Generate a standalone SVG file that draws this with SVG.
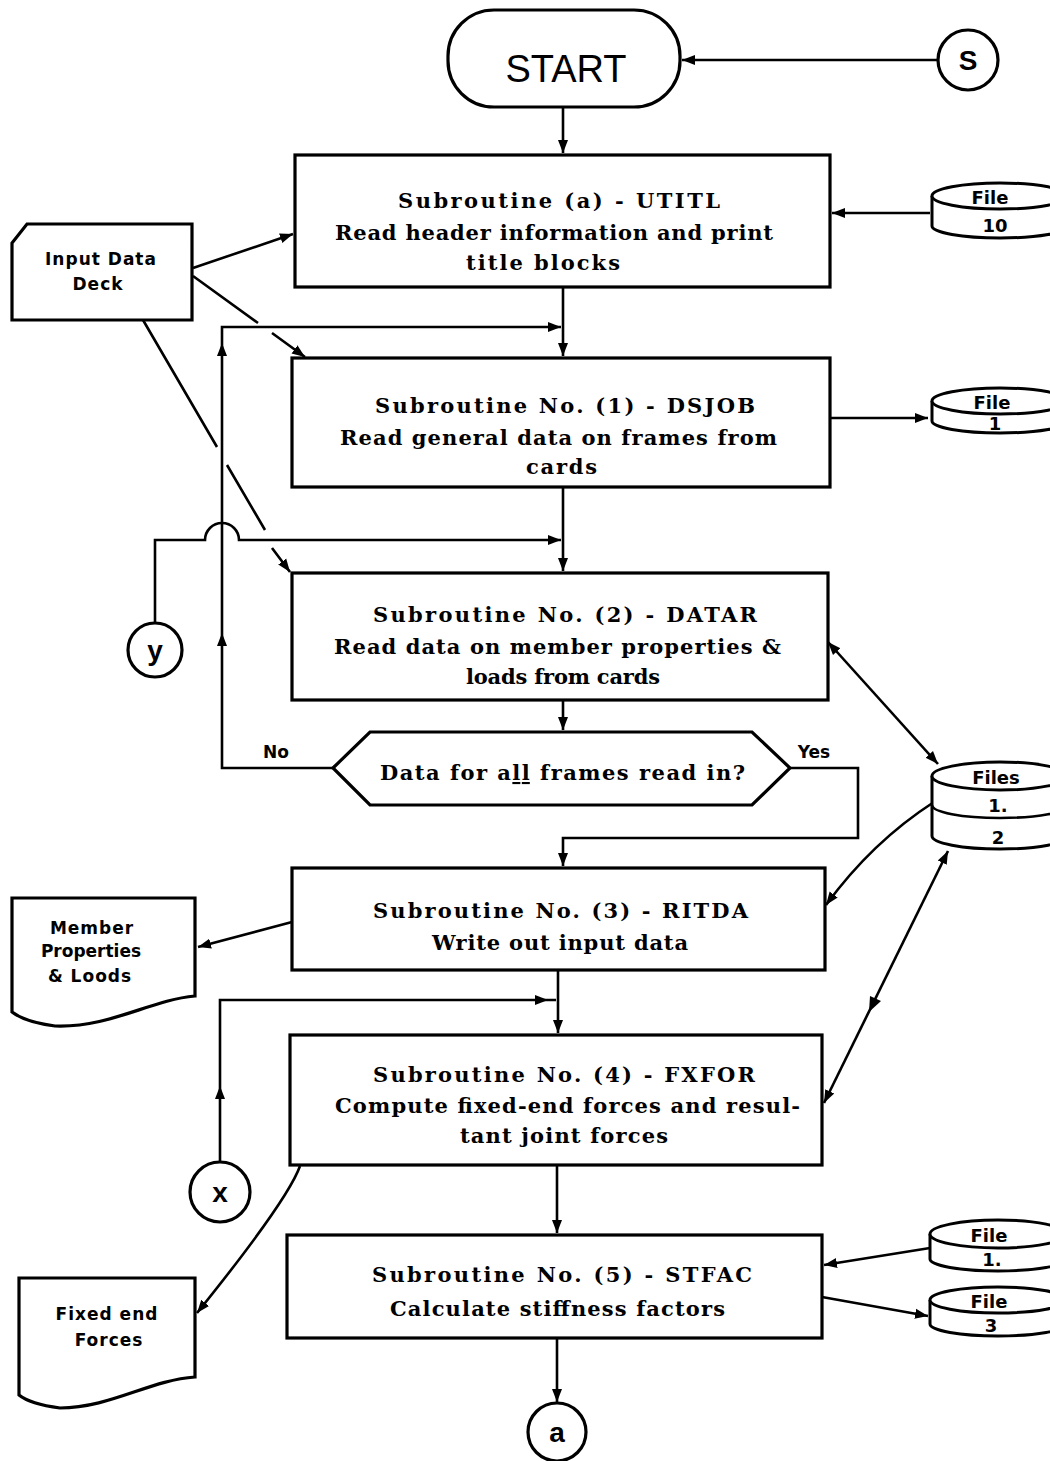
<svg xmlns="http://www.w3.org/2000/svg" width="1050" height="1461" viewBox="0 0 1050 1461">
<defs>
<marker id="ar" markerUnits="userSpaceOnUse" markerWidth="14" markerHeight="12" refX="13" refY="6" orient="auto-start-reverse">
<path d="M0,1 L13,6 L0,11 Z" fill="#000"/>
</marker>
<style>
.box{fill:#fff;stroke:#000;stroke-width:3.2}
.cyl{fill:#fff;stroke:#000;stroke-width:3}
.ln{fill:none;stroke:#000;stroke-width:2.6}
.ser{font-family:"DejaVu Serif","Liberation Serif",serif;font-weight:bold;font-size:21px;fill:#000}
.sans{font-family:"DejaVu Sans","Liberation Sans",sans-serif;font-weight:bold;font-size:17px;fill:#000}
.fl{font-family:"DejaVu Sans","Liberation Sans",sans-serif;font-weight:bold;font-size:18px;fill:#000}
.conn{font-family:"Liberation Sans","DejaVu Sans",sans-serif;font-weight:bold;font-size:28px;fill:#000}
.ah{fill:#000}
</style>
</defs>
<rect width="1050" height="1461" fill="#fff"/>

<g id="connectors">
<path class="ln" d="M938,60 H682" marker-end="url(#ar)"/>
<path class="ln" d="M563,107 V153" marker-end="url(#ar)"/>
<path class="ln" d="M930,213 H832" marker-end="url(#ar)"/>
<path class="ln" d="M193,268 L293,234" marker-end="url(#ar)"/>
<path class="ln" d="M193,276 L258,323 M272,333 L305,357" marker-end="url(#ar)"/>
<path class="ln" d="M143,320 L217,447 M227,465 L265,530 M272,548 L290,572" marker-end="url(#ar)"/>
<path class="ln" d="M563,287 V356" marker-end="url(#ar)"/>
<path class="ln" d="M333,768 H222 V327 H561" marker-end="url(#ar)"/>
<polygon class="ah" points="222,343 217,356 227,356"/>
<polygon class="ah" points="222,633 217,646 227,646"/>
<path class="ln" d="M563,487 V571" marker-end="url(#ar)"/>
<path class="ln" d="M155,623 V540 H205 A17,17 0 0 1 239,540 H561" marker-end="url(#ar)"/>
<path class="ln" d="M830,418 H928" marker-end="url(#ar)"/>
<path class="ln" d="M563,700 V730" marker-end="url(#ar)"/>
<path class="ln" d="M790,768 H858 V838 H563 V866" marker-end="url(#ar)"/>
<path class="ln" d="M292,922 L198,947" marker-end="url(#ar)"/>
<path class="ln" d="M558,970 V1033" marker-end="url(#ar)"/>
<path class="ln" d="M220,1162 V1000 H556"/>
<polygon class="ah" points="548,1000 535,995 535,1005"/>
<polygon class="ah" points="220,1086 215,1099 225,1099"/>
<path class="ln" d="M300,1166 Q288,1200 197,1313" marker-end="url(#ar)"/>
<path class="ln" d="M557,1165 V1233" marker-end="url(#ar)"/>
<path class="ln" d="M557,1338 V1402" marker-end="url(#ar)"/>
<path class="ln" d="M930,1248 L824,1265" marker-end="url(#ar)"/>
<path class="ln" d="M822,1297 L928,1316" marker-end="url(#ar)"/>
<path class="ln" d="M828,642 L938,764" marker-start="url(#ar)" marker-end="url(#ar)"/>
<path class="ln" d="M934,802 Q872,842 826,905" marker-end="url(#ar)"/>
<path class="ln" d="M948,851 L824,1103" marker-start="url(#ar)" marker-end="url(#ar)"/>
<polygon class="ah" points="869,1012 881,1001 870,996"/>
</g>

<g id="start">
<rect class="box" x="448" y="10" width="232" height="97" rx="46"/>
<text x="566" y="82" text-anchor="middle" font-family="Liberation Sans, DejaVu Sans, sans-serif" font-size="38">START</text>
</g>
<g id="conn-s">
<circle class="box" cx="968" cy="60" r="30"/>
<text class="conn" x="968" y="70" text-anchor="middle">S</text>
</g>

<g id="sub-a">
<rect class="box" x="295" y="155" width="535" height="132"/>
<text class="ser" x="398" y="208" textLength="322" lengthAdjust="spacing">Subroutine (a)  -  UTITL</text>
<text class="ser" x="335" y="240" textLength="438" lengthAdjust="spacing">Read header information and print</text>
<text class="ser" x="466" y="270" textLength="154" lengthAdjust="spacing">title blocks</text>
</g>

<g id="file10">
<path class="cyl" d="M932,196 V226 A68,12 0 0 0 1068,226 V196"/>
<ellipse class="cyl" cx="1000" cy="196" rx="68" ry="13"/>
<text class="fl" x="990" y="204" text-anchor="middle">File</text>
<text class="fl" x="995" y="232" text-anchor="middle">10</text>
</g>

<g id="input-deck">
<path class="box" d="M27,224 H192 V320 H12 V243 Z"/>
<text class="sans" x="101" y="265" text-anchor="middle" letter-spacing="1">Input Data</text>
<text class="sans" x="98" y="290" text-anchor="middle" letter-spacing="1">Deck</text>
</g>

<g id="sub-1">
<rect class="box" x="292" y="358" width="538" height="129"/>
<text class="ser" x="375" y="413" textLength="380" lengthAdjust="spacing">Subroutine No. (1)  -  DSJOB</text>
<text class="ser" x="340" y="445" textLength="437" lengthAdjust="spacing">Read general data on frames from</text>
<text class="ser" x="526" y="474" textLength="71" lengthAdjust="spacing">cards</text>
</g>

<g id="file1-top">
<path class="cyl" d="M932,401 V421 A68,12 0 0 0 1068,421 V401"/>
<ellipse class="cyl" cx="1000" cy="401" rx="68" ry="13"/>
<text class="fl" x="992" y="409" text-anchor="middle">File</text>
<text class="fl" x="995" y="430" text-anchor="middle">1</text>
</g>

<g id="conn-y">
<circle class="box" cx="155" cy="650" r="27"/>
<text class="conn" x="155" y="660" text-anchor="middle">y</text>
</g>

<g id="sub-2">
<rect class="box" x="292" y="573" width="536" height="127"/>
<text class="ser" x="373" y="622" textLength="384" lengthAdjust="spacing">Subroutine No. (2)  -  DATAR</text>
<text class="ser" x="334" y="654" textLength="447" lengthAdjust="spacing">Read data on member properties &amp;</text>
<text class="ser" x="466" y="684" textLength="194" lengthAdjust="spacing">loads from cards</text>
</g>

<g id="decision">
<polygon class="box" points="333,768 370,732 752,732 790,768 752,805 370,805"/>
<text class="ser" x="380" y="780" textLength="365" lengthAdjust="spacing">Data for a<tspan text-decoration="underline">ll</tspan> frames read in?</text>
<text class="sans" x="276" y="758" text-anchor="middle">No</text>
<text class="sans" x="814" y="758" text-anchor="middle">Yes</text>
</g>

<g id="files-1-2">
<path class="cyl" d="M932,776 V836 A68,13 0 0 0 1068,836 V776"/>
<path class="ln" d="M932,805 A68,13 0 0 0 1068,805"/>
<ellipse class="cyl" cx="1000" cy="776" rx="68" ry="14"/>
<text class="fl" x="996" y="784" text-anchor="middle">Files</text>
<text class="fl" x="998" y="812" text-anchor="middle">1.</text>
<text class="fl" x="998" y="844" text-anchor="middle">2</text>
</g>

<g id="sub-3">
<rect class="box" x="292" y="868" width="533" height="102"/>
<text class="ser" x="373" y="918" textLength="375" lengthAdjust="spacing">Subroutine No. (3)  -  RITDA</text>
<text class="ser" x="432" y="950" textLength="256" lengthAdjust="spacing">Write out input data</text>
</g>

<g id="member-doc">
<path class="box" d="M12,898 H195 V996 C150,1000 110,1028 55,1026 Q25,1022 12,1012 Z"/>
<text class="sans" x="92" y="934" text-anchor="middle" letter-spacing="1">Member</text>
<text class="sans" x="91" y="957" text-anchor="middle">Properties</text>
<text class="sans" x="90" y="982" text-anchor="middle" letter-spacing="1">&amp; Loods</text>
</g>

<g id="sub-4">
<rect class="box" x="290" y="1035" width="532" height="130"/>
<text class="ser" x="373" y="1082" textLength="382" lengthAdjust="spacing">Subroutine No. (4)  -  FXFOR</text>
<text class="ser" x="335" y="1113" textLength="465" lengthAdjust="spacing">Compute fixed-end forces and resul-</text>
<text class="ser" x="460" y="1143" textLength="208" lengthAdjust="spacing">tant joint forces</text>
</g>

<g id="conn-x">
<circle class="box" cx="220" cy="1192" r="30"/>
<text class="conn" x="220" y="1202" text-anchor="middle">x</text>
</g>

<g id="fixed-doc">
<path class="box" d="M19,1278 H195 V1377 C150,1380 110,1408 60,1408 Q30,1404 19,1395 Z"/>
<text class="sans" x="107" y="1320" text-anchor="middle" letter-spacing="1">Fixed end</text>
<text class="sans" x="109" y="1346" text-anchor="middle" letter-spacing="1">Forces</text>
</g>

<g id="sub-5">
<rect class="box" x="287" y="1235" width="535" height="103"/>
<text class="ser" x="372" y="1282" textLength="380" lengthAdjust="spacing">Subroutine No. (5)  -  STFAC</text>
<text class="ser" x="390" y="1316" textLength="335" lengthAdjust="spacing">Calculate stiffness factors</text>
</g>

<g id="file1-bottom">
<path class="cyl" d="M930,1234 V1259 A68,12 0 0 0 1066,1259 V1234"/>
<ellipse class="cyl" cx="998" cy="1234" rx="68" ry="14"/>
<text class="fl" x="989" y="1242" text-anchor="middle">File</text>
<text class="fl" x="992" y="1266" text-anchor="middle">1.</text>
</g>

<g id="file3">
<path class="cyl" d="M930,1300 V1324 A68,12 0 0 0 1066,1324 V1300"/>
<ellipse class="cyl" cx="998" cy="1300" rx="68" ry="13"/>
<text class="fl" x="989" y="1308" text-anchor="middle">File</text>
<text class="fl" x="991" y="1332" text-anchor="middle">3</text>
</g>

<g id="conn-a">
<circle class="box" cx="557" cy="1432" r="29"/>
<text class="conn" x="557" y="1442" text-anchor="middle">a</text>
</g>
</svg>
